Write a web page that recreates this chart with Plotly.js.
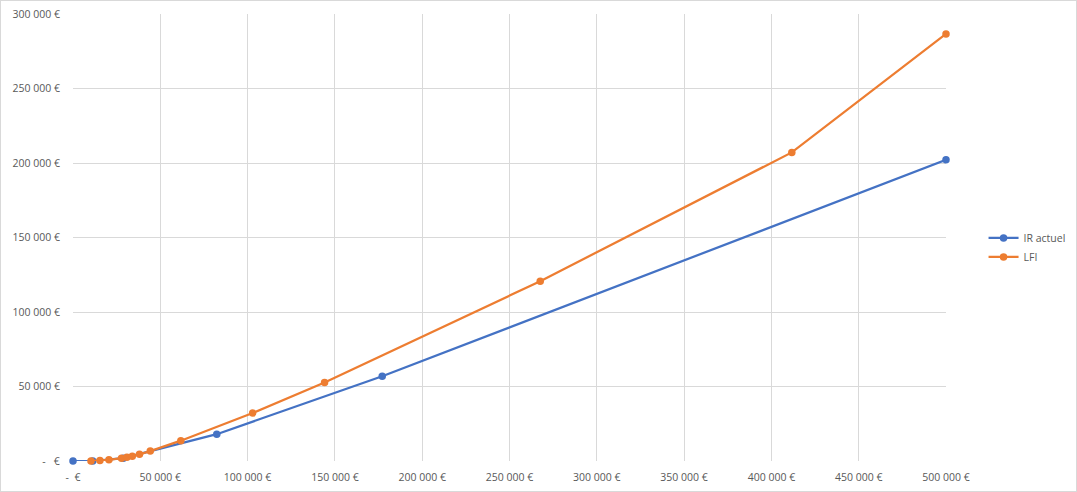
<!DOCTYPE html>
<html>
<head>
<meta charset="utf-8">
<script src="https://cdn.plot.ly/plotly-3.0.1.min.js"></script>
<style>
html,body{margin:0;padding:0;background:#fff;}
#wrap{width:1077px;height:492px;box-sizing:border-box;border:1px solid #d9d9d9;}
#chart{width:1075px;height:490px;}
</style>
</head>
<body>
<div id="wrap"><div id="chart"></div></div>
<script>
// Revenu imposable (€) et impôt (€)
const irX = [0, 11294, 28797, 82341, 177106, 500000];
const irY = [0, 0, 1925, 17988, 56842, 202144];

const lfiX = [10292, 15438, 20584, 27789, 30876, 33964, 38081, 44256, 61752, 102921, 144089, 267594, 411683, 500000];
const lfiY = [0, 257, 772, 1853, 2470, 3242, 4477, 6638, 13636, 32162, 52746, 120674, 207127, 286612];

const xTickVals = [0, 50000, 100000, 150000, 200000, 250000, 300000, 350000, 400000, 450000, 500000];
const xTickText = ['-  €', '50 000 €', '100 000 €', '150 000 €', '200 000 €', '250 000 €', '300 000 €', '350 000 €', '400 000 €', '450 000 €', '500 000 €'];
const yTickVals = [0, 50000, 100000, 150000, 200000, 250000, 300000];
const yTickText = ['-   €', '50 000 €', '100 000 €', '150 000 €', '200 000 €', '250 000 €', '300 000 €'];

const seriesNames = ['IR actuel', 'LFI'];

const traces = [
  {x: irX, y: irY, name: seriesNames[0], type: 'scatter', mode: 'lines+markers', cliponaxis: false,
   line: {color: '#4472C4', width: 2.25}, marker: {color: '#4472C4', size: 7.5}},
  {x: lfiX, y: lfiY, name: seriesNames[1], type: 'scatter', mode: 'lines+markers', cliponaxis: false,
   line: {color: '#ED7D31', width: 2.25}, marker: {color: '#ED7D31', size: 7.5}}
];

const tickFont = {family: 'Open Sans, Noto Sans, sans-serif', size: 10.5, color: '#595959'};

const layout = {
  width: 1075, height: 490,
  margin: {l: 72, r: 130, t: 13, b: 30},
  paper_bgcolor: '#ffffff', plot_bgcolor: '#ffffff',
  showlegend: true,
  legend: {xref: 'container', yref: 'container', x: 0.914, y: 0.497,
           xanchor: 'left', yanchor: 'middle',
           font: {family: 'Open Sans, Noto Sans, sans-serif', size: 10.5, color: '#595959'},
           tracegroupgap: 6, itemwidth: 30},
  xaxis: {range: [0, 500000], tickvals: xTickVals, ticktext: xTickText,
          showgrid: true, gridcolor: '#d9d9d9', gridwidth: 1,
          zeroline: false, showline: false, automargin: false,
          ticks: 'outside', ticklen: 6, tickcolor: 'rgba(0,0,0,0)',
          tickfont: tickFont, fixedrange: true},
  yaxis: {range: [0, 300000], tickvals: yTickVals, ticktext: yTickText,
          showgrid: true, gridcolor: '#d9d9d9', gridwidth: 1,
          zeroline: false, showline: false, automargin: false,
          ticks: 'outside', ticklen: 10, tickcolor: 'rgba(0,0,0,0)',
          tickfont: tickFont, fixedrange: true}
};

Plotly.newPlot('chart', traces, layout, {displayModeBar: false, staticPlot: true});
</script>
</body>
</html>
